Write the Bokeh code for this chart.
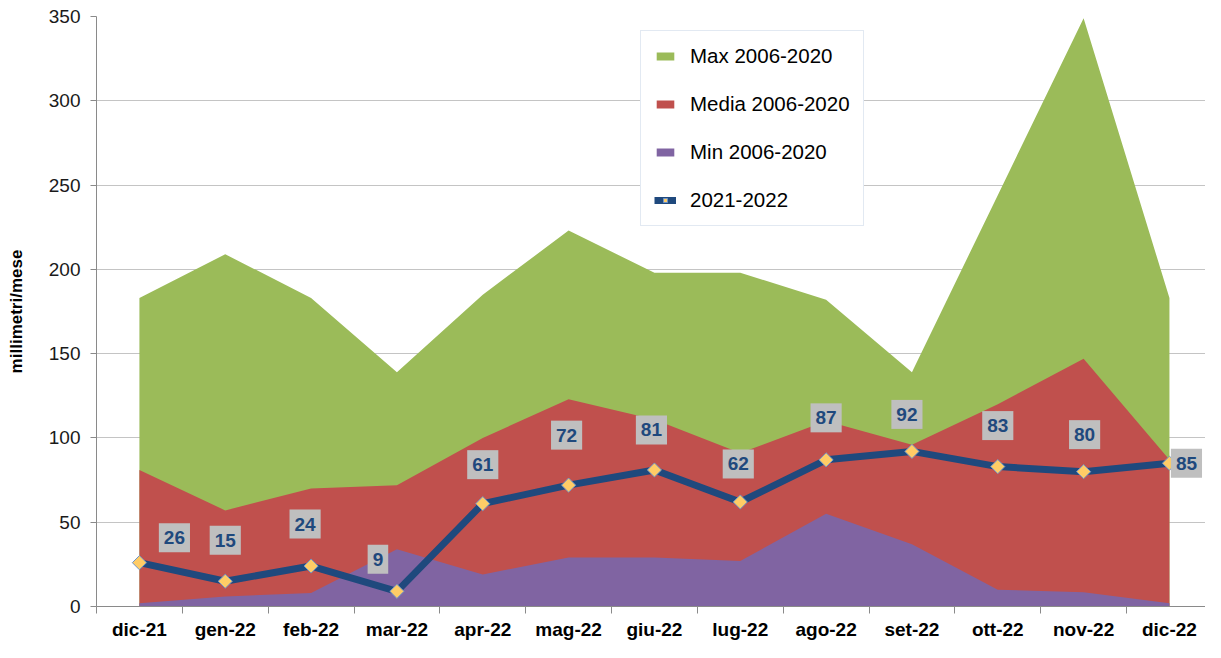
from bokeh.plotting import figure
from bokeh.models import (ColumnDataSource, FixedTicker, Range1d, Legend, LegendItem)
from bokeh.core.properties import value
from bokeh.embed import file_html
from bokeh.resources import INLINE
import numpy as np

# ---- data ----
months = ["dic-21", "gen-22", "feb-22", "mar-22", "apr-22", "mag-22", "giu-22",
          "lug-22", "ago-22", "set-22", "ott-22", "nov-22", "dic-22"]
max_vals = [183, 209, 183, 139, 185, 223, 198, 198, 182, 139, 244, 349, 183]
media_vals = [81, 57, 70, 72, 100, 123, 111, 91, 110, 96, 120, 147, 87]
min_vals = [2, 6, 8, 34, 19, 29, 29, 27, 55, 37, 10, 8.5, 2]
obs_vals = [26, 15, 24, 9, 61, 72, 81, 62, 87, 92, 83, 80, 85]
y_ticks = [0, 50, 100, 150, 200, 250, 300, 350]

# label placement (screen px offsets, right / up; style only)
lbl_dx = [35, 0, -6, -19, 0, -2, -3, -2, 0, -5, 0, 1, 17]
lbl_dy = [25, 41, 42, 32, 39, 50, 40, 38, 42, 37, 41, 37, 0]

FONT = "Liberation Sans"
xs = list(range(len(months)))

src = ColumnDataSource(dict(
    x=xs, mx=max_vals, md=media_vals, mn=min_vals, obs=obs_vals,
    lbl=[str(v) for v in obs_vals], dx=lbl_dx, dy=[-d for d in lbl_dy]))

p = figure(width=1205, height=642, output_backend="svg", toolbar_location=None,
           x_range=Range1d(-0.5, 12.42), y_range=Range1d(0, 350),
           min_border_left=96, min_border_top=16, min_border_right=0,
           min_border_bottom=0)
p.outline_line_color = None
p.background_fill_color = "white"
p.border_fill_color = "white"

# grid
p.xgrid.visible = False
p.ygrid.ticker = FixedTicker(ticks=y_ticks)
p.ygrid.grid_line_color = "#c4c4c4"
p.ygrid.grid_line_width = 1.2

# areas (overlapping, not stacked)
r_max = p.varea(x="x", y1=0, y2="mx", source=src, fill_color="#9bbb59")
r_med = p.varea(x="x", y1=0, y2="md", source=src, fill_color="#c0504d")
r_min = p.varea(x="x", y1=0, y2="mn", source=src, fill_color="#8064a2")

# observed series
r_line = p.line("x", "obs", source=src, line_color="#1f497d", line_width=7,
                line_join="round")
r_pts = p.scatter("x", "obs", source=src, marker="square", angle=np.pi / 4,
                  size=10, fill_color="#ffcc66", line_color="#6f95c8",
                  line_width=1)

# data labels
p.text("x", "obs", text="lbl", source=src, x_offset="dx", y_offset="dy",
       text_align="center", text_baseline="middle",
       text_font=value(FONT), text_font_style="bold", text_font_size="19px",
       text_color="#1f497d", background_fill_color="#bfbfbf", padding=(5, 8))

# x axis
xa = p.xaxis[0]
xa.ticker = FixedTicker(ticks=xs, minor_ticks=[k - 0.5 for k in range(len(months) + 1)])
xa.major_label_overrides = {i: m for i, m in enumerate(months)}
xa.major_tick_out = 0
xa.major_tick_in = 0
xa.major_tick_line_color = None
xa.minor_tick_out = 7
xa.minor_tick_in = 0
xa.minor_tick_line_color = "#8a8a8a"
xa.axis_line_color = "#8a8a8a"
xa.major_label_standoff = 5
xa.major_label_text_font = FONT
xa.major_label_text_font_style = "bold"
xa.major_label_text_font_size = "19px"
xa.major_label_text_color = "#000000"

# y axis
ya = p.yaxis[0]
ya.ticker = FixedTicker(ticks=y_ticks, minor_ticks=[])
ya.major_tick_out = 6
ya.major_tick_in = 0
ya.major_tick_line_color = "#8a8a8a"
ya.minor_tick_line_color = None
ya.axis_line_color = "#8a8a8a"
ya.major_label_standoff = 10
ya.major_label_text_font = FONT
ya.major_label_text_font_size = "19px"
ya.major_label_text_color = "#1a1a1a"
ya.axis_label = "millimetri/mese"
ya.axis_label_text_font = FONT
ya.axis_label_text_font_style = "bold"
ya.axis_label_text_font_size = "17px"
ya.axis_label_text_color = "#000000"
ya.axis_label_standoff = 20

# legend
legend = Legend(items=[
    LegendItem(label="Max 2006-2020", renderers=[r_max]),
    LegendItem(label="Media 2006-2020", renderers=[r_med]),
    LegendItem(label="Min 2006-2020", renderers=[r_min]),
    LegendItem(label="2021-2022", renderers=[r_line, r_pts]),
], location=(544, 380))
legend.label_text_font = FONT
legend.label_text_font_size = "20.5px"
legend.label_text_color = "#000000"
legend.glyph_width = 22
legend.glyph_height = 10
legend.label_height = 23
legend.label_standoff = 14
legend.spacing = 24
legend.padding = 13
legend.margin = 0
legend.border_line_color = "#c5d3e6"
legend.border_line_width = 1
legend.background_fill_color = "white"
legend.background_fill_alpha = 1.0
p.add_layout(legend)

open("out.html", "w").write(file_html(p, INLINE))
